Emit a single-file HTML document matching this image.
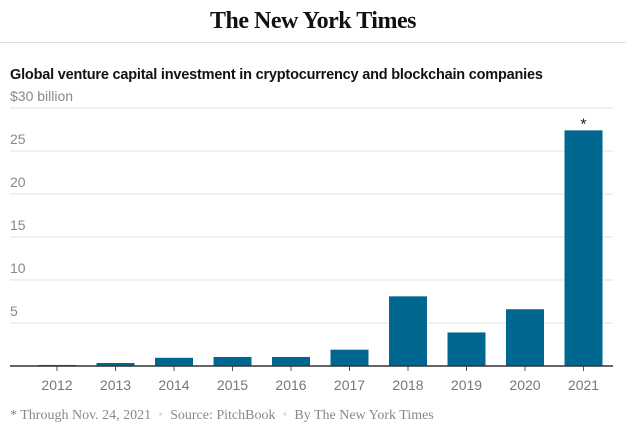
<!DOCTYPE html>
<html><head><meta charset="utf-8"><style>
body{margin:0;width:626px;height:435px;background:#fff;font-family:"Liberation Sans",sans-serif;overflow:hidden;position:relative}
.logo{position:absolute;top:8px;left:0;width:626px;text-align:center;font-family:"Liberation Serif",serif;font-weight:bold;font-size:24px;color:#111;letter-spacing:-0.5px}
.hr{position:absolute;top:42px;left:0;width:626px;height:1px;background:#ddd}
.title{position:absolute;top:67px;left:10px;font-weight:bold;font-size:14.5px;color:#121212;letter-spacing:-0.2px}
.foot{position:absolute;top:408px;left:10px;font-family:"Liberation Serif",serif;font-size:14px;color:#888}
</style></head><body>
<div class="logo">The New York Times</div>
<div class="hr"></div>
<div class="title">Global venture capital investment in cryptocurrency and blockchain companies</div>
<svg id="chart" width="626" height="435" style="position:absolute;left:0;top:0"></svg>
<div class="foot">* Through Nov. 24, 2021 &nbsp;<span style="color:#ddd">•</span>&nbsp; Source: PitchBook &nbsp;<span style="color:#ddd">•</span>&nbsp; By The New York Times</div>
<script>
const years=["2012","2013","2014","2015","2016","2017","2018","2019","2020","2021"];
const values=[0.12,0.35,0.95,1.05,1.05,1.9,8.1,3.9,6.6,27.4];
const ticks=[0,5,10,15,20,25,30];
const tickLabels=["","5","10","15","20","25","$30 billion"];
const NS="http://www.w3.org/2000/svg";
const svg=document.getElementById("chart");
const y=v=>366-v*8.6;
const x=i=>57+i*58.5;
function mk(t,a){const e=document.createElementNS(NS,t);for(const k in a)e.setAttribute(k,a[k]);svg.appendChild(e);return e;}
ticks.forEach((t,i)=>{
 if(t>0){const l=mk("line",{x1:10,x2:613,y1:y(t),y2:y(t),stroke:"#e2e2e2","stroke-width":1});
 
 
 const tx=mk("text",{x:10,y:y(t)-7,"font-size":14,fill:"#888","font-family":"Liberation Sans, sans-serif"});
 tx.textContent=tickLabels[i];
 
 }
});
values.forEach((v,i)=>{
 const r=mk("rect",{x:x(i)-19,y:y(v),width:38,height:366-y(v),fill:"#006890"});
 
 
 const tk=mk("line",{x1:x(i),x2:x(i),y1:366,y2:371,stroke:"#555"});
 
 
 const t=mk("text",{x:x(i),y:390,"text-anchor":"middle","font-size":14,fill:"#777","font-family":"Liberation Sans, sans-serif"});
 t.textContent=years[i];
 
 
});
const ax=mk("line",{x1:10,x2:613,y1:366,y2:366,stroke:"#333","stroke-width":1.5});


const st=mk("text",{x:x(9),y:y(values[9])-1,"text-anchor":"middle","font-size":16,fill:"#222","font-family":"Liberation Sans, sans-serif"});
st.textContent="*";


</script>
</body></html>
